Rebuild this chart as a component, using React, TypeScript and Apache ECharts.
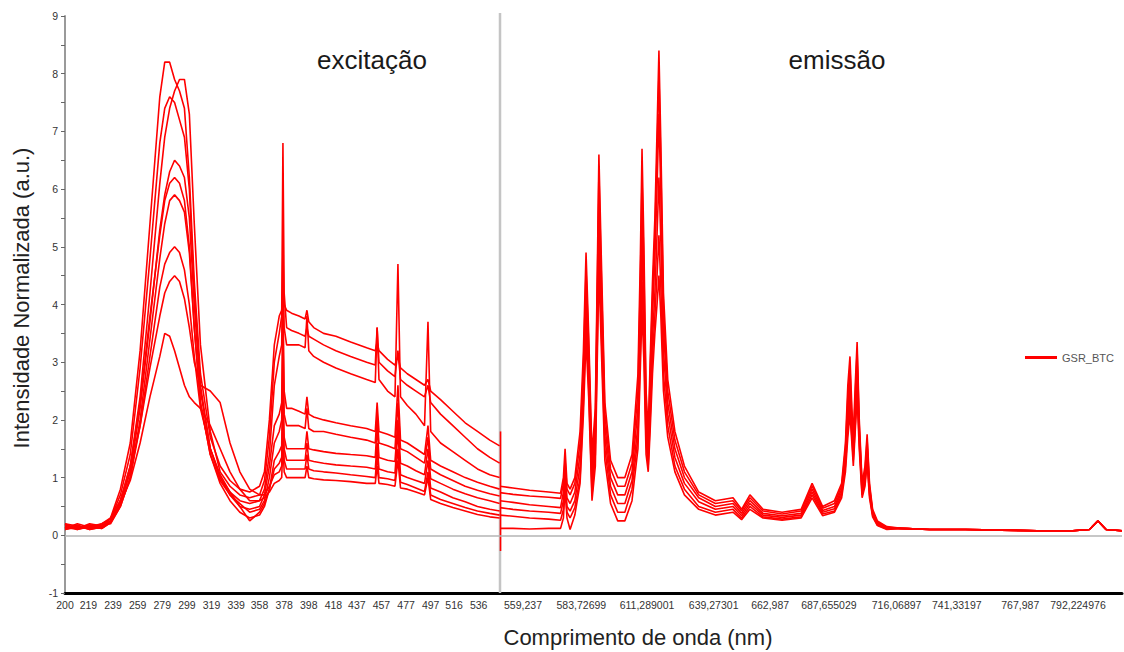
import React, { useEffect, useRef } from "react";
import * as echarts from "echarts";

const FONT = "Liberation Sans, Arial, Helvetica, sans-serif";

// ---------- excitation (left panel), x in nm ----------
const exX = [200, 210, 220, 230, 237, 245, 253, 261, 269, 277, 281, 285, 289, 293, 297, 301, 305, 310, 318, 326,
  334, 342, 350, 358, 362, 366, 370, 374, 376, 377, 378, 380, 384, 390, 395, 396.5, 398, 402, 410, 420,
  432, 445, 452, 453.5, 455, 462, 468, 470.4, 472.5, 478, 485, 492, 494.8, 497, 505, 515, 525, 535, 545, 553];

const ex1 = [0.15, 0.12, 0.18, 0.15, 0.3, 0.8, 1.6, 3.2, 5.4, 7.6, 8.2, 8.2, 7.9, 7.7, 7.4, 6.2, 4.4, 2.8, 1.7, 1.2,
  0.95, 0.8, 0.75, 0.85, 1.1, 2.0, 3.3, 3.8, 3.9, 4.3, 4.0, 3.9, 3.85, 3.8, 3.75, 3.9, 3.7, 3.6, 3.5, 3.45,
  3.35, 3.25, 3.2, 3.35, 3.2, 3.05, 2.95, 3.1, 2.9, 2.8, 2.7, 2.6, 2.7, 2.5, 2.35, 2.15, 1.95, 1.8, 1.65, 1.55];
const ex2 = [0.1, 0.16, 0.1, 0.14, 0.25, 0.6, 1.2, 2.4, 4.2, 6.1, 6.9, 7.4, 7.7, 7.9, 7.9, 7.3, 5.4, 3.3, 1.8, 1.1,
  0.85, 0.7, 0.65, 0.7, 0.95, 1.7, 3.0, 3.5, 3.8, 6.8, 4.2, 3.6, 3.55, 3.5, 3.45, 3.6, 3.45, 3.4, 3.3, 3.2,
  3.1, 3.0, 2.95, 3.6, 3.0, 2.85, 2.75, 3.2, 2.7, 2.6, 2.5, 2.4, 2.6, 2.3, 2.1, 1.9, 1.7, 1.5, 1.35, 1.25];
const ex3 = [0.2, 0.1, 0.15, 0.2, 0.28, 0.7, 1.4, 2.9, 4.8, 6.8, 7.4, 7.6, 7.5, 7.2, 6.9, 6.0, 4.2, 2.6, 1.5, 1.0,
  0.75, 0.6, 0.55, 0.6, 0.8, 1.4, 2.6, 3.1, 3.3, 5.0, 3.6, 3.3, 3.3, 3.3, 3.25, 3.8, 3.2, 3.1, 3.0, 2.9,
  2.8, 2.7, 2.65, 3.6, 2.7, 2.5, 2.4, 4.7, 2.4, 2.25, 2.1, 1.9, 3.7, 1.8, 1.6, 1.45, 1.3, 1.15, 1.05, 1.0];
const ex4 = [0.12, 0.2, 0.14, 0.12, 0.22, 0.55, 1.1, 2.2, 3.7, 5.3, 5.9, 6.3, 6.5, 6.4, 6.2, 5.5, 4.0, 2.5, 1.5, 1.0,
  0.7, 0.5, 0.45, 0.5, 0.7, 1.2, 1.9, 2.1, 2.3, 4.2, 2.5, 2.2, 2.2, 2.15, 2.1, 2.4, 2.1, 2.05, 2.0, 1.95,
  1.9, 1.85, 1.8, 2.3, 1.8, 1.75, 1.7, 2.6, 1.65, 1.6, 1.5, 1.4, 1.9, 1.3, 1.2, 1.1, 1.0, 0.92, 0.85, 0.8];
const ex5 = [0.18, 0.12, 0.2, 0.16, 0.25, 0.6, 1.2, 2.3, 3.8, 5.2, 5.8, 6.1, 6.2, 6.1, 5.8, 5.0, 3.6, 2.3, 1.4, 0.95,
  0.7, 0.55, 0.4, 0.45, 0.6, 1.0, 1.6, 1.8, 2.0, 3.5, 2.1, 1.9, 1.9, 1.9, 1.85, 2.2, 1.85, 1.8, 1.8, 1.75,
  1.7, 1.65, 1.6, 2.1, 1.6, 1.55, 1.5, 2.3, 1.5, 1.45, 1.35, 1.25, 1.7, 1.15, 1.05, 0.95, 0.85, 0.78, 0.72, 0.68];
const ex6 = [0.1, 0.14, 0.12, 0.18, 0.2, 0.5, 1.0, 2.0, 3.4, 4.8, 5.4, 5.8, 5.9, 5.8, 5.6, 4.9, 3.6, 2.3, 1.4, 0.9,
  0.6, 0.4, 0.3, 0.35, 0.5, 0.8, 1.3, 1.45, 1.55, 2.8, 1.7, 1.5, 1.5, 1.5, 1.5, 1.8, 1.5, 1.48, 1.45, 1.42,
  1.4, 1.38, 1.35, 1.9, 1.35, 1.3, 1.28, 2.0, 1.25, 1.2, 1.12, 1.05, 1.5, 0.98, 0.9, 0.8, 0.72, 0.65, 0.6, 0.55];
const ex7 = [0.14, 0.1, 0.16, 0.12, 0.22, 0.5, 1.0, 1.9, 3.1, 4.3, 4.7, 4.9, 5.0, 4.9, 4.6, 4.0, 3.1, 2.2, 1.5, 1.05,
  0.75, 0.5, 0.25, 0.4, 0.55, 0.8, 1.15, 1.25, 1.35, 2.2, 1.5, 1.3, 1.3, 1.3, 1.3, 1.6, 1.3, 1.28, 1.25, 1.22,
  1.2, 1.18, 1.15, 1.6, 1.15, 1.1, 1.08, 1.8, 1.05, 1.0, 0.95, 0.9, 1.3, 0.82, 0.75, 0.65, 0.58, 0.5, 0.45, 0.42];
const ex8 = [0.2, 0.16, 0.12, 0.2, 0.3, 0.6, 1.1, 1.9, 2.9, 3.8, 4.2, 4.4, 4.5, 4.4, 4.1, 3.6, 3.0, 2.6, 2.5, 2.3,
  1.6, 1.1, 0.8, 0.7, 0.7, 0.85, 1.05, 1.1, 1.2, 1.9, 1.3, 1.15, 1.15, 1.15, 1.15, 1.4, 1.15, 1.12, 1.1, 1.08,
  1.05, 1.02, 1.0, 1.4, 1.0, 0.98, 0.95, 1.5, 0.92, 0.88, 0.82, 0.76, 1.1, 0.7, 0.62, 0.55, 0.48, 0.42, 0.38, 0.35];
const ex9 = [0.12, 0.18, 0.1, 0.15, 0.25, 0.55, 0.95, 1.6, 2.4, 3.1, 3.5, 3.45, 3.2, 2.9, 2.6, 2.4, 2.3, 2.2, 1.9, 1.5,
  1.1, 0.8, 0.6, 0.6, 0.65, 0.75, 0.9, 0.95, 1.0, 1.6, 1.1, 1.0, 1.0, 1.0, 1.0, 1.2, 1.0, 0.98, 0.96, 0.95,
  0.93, 0.9, 0.9, 1.2, 0.9, 0.88, 0.85, 1.3, 0.82, 0.8, 0.75, 0.7, 1.0, 0.62, 0.55, 0.48, 0.42, 0.36, 0.32, 0.3];

// ---------- emission (right panel), x in nm ----------
const emX = [549.6, 555, 562, 570, 575, 576.2, 576.9, 577.7, 579, 581, 583.2, 584.6, 585.7, 586.8, 588.2, 589.6, 590.4,
  591.1, 592, 593.6, 596, 599, 602, 605, 607.5, 608.5, 609.2, 610, 610.9, 611.8, 612.6, 613.6, 614.6, 615.5, 616.3,
  617.1, 618.2, 620, 623, 627, 633, 640, 647.4, 651, 654.5, 660, 668, 676, 680.6, 685, 690, 693, 694.6, 695.6, 696.5,
  697.3, 697.9, 698.7, 699.5, 700.4, 701.6, 702.8, 703.7, 704.7, 706, 708, 712];
const emTailX = [718, 730, 745, 760, 775, 790, 797, 800.6, 804, 810.7];
const emTail = [0.12, 0.1, 0.1, 0.09, 0.08, 0.08, 0.1, 0.25, 0.1, 0.08];

const em1 = [0.85, 0.82, 0.78, 0.75, 0.73, 1.0, 1.5, 0.9, 0.8, 1.0, 1.8, 3.2, 4.9, 3.5, 1.4, 2.2, 4.5, 6.6, 5.0, 2.3,
  1.3, 1.0, 1.0, 1.4, 2.8, 4.8, 6.7, 5.0, 2.5, 1.8, 3.0, 4.4, 5.5, 7.0, 8.4, 6.8, 4.2, 2.7, 1.8, 1.2,
  0.75, 0.6, 0.65, 0.45, 0.7, 0.45, 0.4, 0.45, 0.9, 0.5, 0.6, 0.9, 1.6, 2.6, 3.1, 2.2, 1.7, 2.6, 3.35, 2.0,
  0.9, 1.2, 1.75, 0.9, 0.45, 0.25, 0.15];
const em2 = [0.74, 0.71, 0.68, 0.66, 0.64, 0.9, 1.3, 0.8, 0.7, 0.9, 1.6, 2.9, 4.6, 3.3, 1.2, 2.0, 4.2, 6.3, 4.7, 2.1,
  1.15, 0.85, 0.85, 1.25, 2.5, 4.4, 6.2, 4.6, 2.3, 1.6, 2.8, 4.1, 5.2, 6.6, 8.0, 6.4, 3.9, 2.5, 1.65, 1.1,
  0.7, 0.55, 0.6, 0.42, 0.65, 0.42, 0.37, 0.42, 0.85, 0.47, 0.55, 0.85, 1.5, 2.4, 2.9, 2.05, 1.6, 2.4, 3.2, 1.9,
  0.85, 1.1, 1.65, 0.85, 0.42, 0.23, 0.14];
const em3 = [0.6, 0.57, 0.53, 0.5, 0.48, 0.75, 1.2, 0.65, 0.55, 0.75, 1.4, 2.7, 4.3, 3.1, 1.0, 1.8, 3.9, 5.9, 4.4, 1.9,
  1.0, 0.7, 0.7, 1.1, 2.2, 4.0, 5.6, 4.2, 2.0, 1.4, 2.5, 3.8, 4.8, 6.0, 7.3, 5.9, 3.6, 2.3, 1.5, 1.0,
  0.65, 0.5, 0.55, 0.38, 0.6, 0.38, 0.34, 0.38, 0.8, 0.43, 0.5, 0.8, 1.4, 2.2, 2.7, 1.9, 1.5, 2.2, 3.0, 1.8,
  0.8, 1.0, 1.55, 0.8, 0.4, 0.22, 0.13];
const em4 = [0.48, 0.45, 0.42, 0.4, 0.38, 0.6, 1.0, 0.5, 0.42, 0.6, 1.2, 2.5, 4.0, 2.9, 0.85, 1.6, 3.6, 5.4, 4.0, 1.7,
  0.85, 0.55, 0.55, 0.95, 1.9, 3.6, 5.0, 3.8, 1.8, 1.3, 2.2, 3.4, 4.2, 5.2, 6.2, 5.1, 3.2, 2.1, 1.35, 0.9,
  0.58, 0.45, 0.5, 0.34, 0.55, 0.35, 0.31, 0.35, 0.75, 0.4, 0.46, 0.75, 1.3, 2.0, 2.5, 1.8, 1.4, 2.0, 2.8, 1.7,
  0.75, 0.95, 1.45, 0.75, 0.38, 0.2, 0.12];
const em5 = [0.35, 0.33, 0.3, 0.28, 0.26, 0.45, 0.9, 0.4, 0.3, 0.48, 1.0, 2.3, 3.7, 2.6, 0.7, 1.4, 3.3, 5.0, 3.7, 1.5,
  0.7, 0.4, 0.4, 0.8, 1.7, 3.2, 4.4, 3.4, 1.6, 1.2, 2.0, 3.1, 3.8, 4.5, 5.2, 4.3, 2.8, 1.9, 1.2, 0.8,
  0.5, 0.4, 0.45, 0.3, 0.5, 0.32, 0.28, 0.32, 0.7, 0.37, 0.42, 0.7, 1.2, 1.85, 2.3, 1.7, 1.3, 1.9, 2.6, 1.6,
  0.7, 0.9, 1.35, 0.7, 0.35, 0.18, 0.11];
const em6 = [0.12, 0.12, 0.11, 0.12, 0.12, 0.3, 0.8, 0.3, 0.1, 0.35, 0.9, 2.1, 3.4, 2.4, 0.6, 1.2, 3.0, 4.6, 3.4, 1.3,
  0.55, 0.25, 0.25, 0.6, 1.5, 2.9, 3.9, 3.0, 1.4, 1.1, 1.8, 2.8, 3.5, 4.0, 4.5, 3.8, 2.5, 1.7, 1.1, 0.7,
  0.45, 0.35, 0.4, 0.27, 0.45, 0.3, 0.26, 0.3, 0.65, 0.34, 0.4, 0.65, 1.1, 1.7, 2.1, 1.6, 1.2, 1.8, 2.4, 1.5,
  0.65, 0.85, 1.25, 0.65, 0.32, 0.17, 0.1];

// junction between the two scans
const jumpX = [549.8, 549.8];
const jumpY = [1.8, -0.27];

// ---------- axes ----------
const exTickVals = [200, 219, 239, 259, 279, 299, 319, 339, 358, 378, 398, 418, 437, 457, 477, 497, 516, 536];
const emTickVals = [559.237, 583.72699, 611.289001, 639.27301, 662.987, 687.655029, 716.06897, 741.33197, 767.987, 792.224976];
const emTickLabels = ["559,237", "583,72699", "611,289001", "639,27301", "662,987", "687,655029", "716,06897", "741,33197", "767,987", "792,224976"];

const SERIES_NAME = "GSR_BTC";
const RED = "#ff0000";

function zip(xs: number[], ys: number[]) {
  return xs.map((x, i) => [x, ys[i]]);
}

export default function App() {
  const ref = useRef<HTMLDivElement>(null);

  useEffect(() => {
    if (!ref.current) return;
    const chart = echarts.init(ref.current, undefined, { renderer: "svg" });

    const zeroLine = {
      silent: true,
      symbol: "none",
      label: { show: false },
      lineStyle: { color: "#b4b4b4", width: 1.5, type: "solid" },
      data: [{ yAxis: 0 }],
    };

    const exCurves = [ex1, ex2, ex3, ex4, ex5, ex6, ex7, ex8, ex9];
    const emCurves = [em1, em2, em3, em4, em5, em6];

    const lineBase = {
      type: "line",
      name: SERIES_NAME,
      symbol: "none",
      showSymbol: false,
      lineStyle: { color: RED, width: 1.6 },
      itemStyle: { color: RED },
      emphasis: { disabled: true },
    };

    const series: any[] = [];
    exCurves.forEach((ys, i) => {
      series.push({
        ...lineBase,
        xAxisIndex: 0,
        yAxisIndex: 0,
        data: zip(exX, ys),
        ...(i === 0 ? { markLine: zeroLine } : {}),
      });
    });
    emCurves.forEach((ys, i) => {
      series.push({
        ...lineBase,
        xAxisIndex: 1,
        yAxisIndex: 1,
        data: zip(emX.concat(emTailX), ys.concat(emTail)),
        ...(i === 0 ? { markLine: zeroLine } : {}),
      });
    });
    series.push({ ...lineBase, xAxisIndex: 1, yAxisIndex: 1, data: zip(jumpX, jumpY) });

    const yAxisBase = {
      type: "value",
      min: -1,
      max: 9,
      interval: 1,
      splitLine: { show: false },
    };

    const option: any = {
      animation: false,
      backgroundColor: "#ffffff",
      textStyle: { fontFamily: FONT },
      grid: [
        { left: 65, top: 16, width: 435, bottom: 59 },
        { left: 500, top: 16, right: 2, bottom: 59 },
      ],
      xAxis: [
        {
          type: "value",
          gridIndex: 0,
          min: 200,
          max: 553.3,
          axisLine: { show: true, onZero: false, lineStyle: { color: "#000", width: 3 } },
          axisTick: { show: false },
          splitLine: { show: false },
          axisLabel: {
            customValues: exTickVals,
            fontSize: 10.5,
            color: "#333",
            fontFamily: FONT,
            margin: 6,
            formatter: (v: number) => String(Math.round(v)),
          },
        },
        {
          type: "value",
          gridIndex: 1,
          min: 549.58,
          max: 810.7,
          axisLine: { show: true, onZero: false, lineStyle: { color: "#000", width: 3 } },
          axisTick: { show: false },
          splitLine: { show: false },
          axisLabel: {
            customValues: emTickVals,
            fontSize: 10.5,
            color: "#333",
            fontFamily: FONT,
            margin: 6,
            formatter: (v: number) => {
              let best = 0;
              emTickVals.forEach((t, i) => {
                if (Math.abs(t - v) < Math.abs(emTickVals[best] - v)) best = i;
              });
              return emTickLabels[best];
            },
          },
        },
      ],
      yAxis: [
        {
          ...yAxisBase,
          gridIndex: 0,
          axisLine: { show: true, lineStyle: { color: "#9a9a9a", width: 2 } },
          axisTick: { show: true, length: 4, lineStyle: { color: "#666" } },
          minorTick: { show: true, splitNumber: 2, length: 4, lineStyle: { color: "#666" } },
          axisLabel: { fontSize: 10.5, color: "#333", fontFamily: FONT, margin: 7 },
        },
        {
          ...yAxisBase,
          gridIndex: 1,
          show: false,
        },
      ],
      legend: {
        data: [{ name: SERIES_NAME, icon: "rect" }],
        left: 1025,
        top: 352,
        padding: 0,
        itemWidth: 32,
        itemHeight: 3,
        itemGap: 6,
        itemStyle: { color: RED },
        textStyle: { fontSize: 11, color: "#555", fontFamily: FONT },
        selectedMode: false,
      },
      graphic: [
        {
          type: "line",
          shape: { x1: 500, y1: 13, x2: 500, y2: 593 },
          style: { stroke: "#c4c4c4", lineWidth: 2.5 },
          z: 1,
          silent: true,
        },
        {
          type: "text",
          x: 372,
          y: 60,
          style: { text: "excitação", fontSize: 26, fill: "#1a1a1a", fontFamily: FONT, align: "center", verticalAlign: "middle" },
          z: 10,
        },
        {
          type: "text",
          x: 837,
          y: 60,
          style: { text: "emissão", fontSize: 26, fill: "#1a1a1a", fontFamily: FONT, align: "center", verticalAlign: "middle" },
          z: 10,
        },
        {
          type: "text",
          x: 638,
          y: 637,
          style: { text: "Comprimento de onda (nm)", fontSize: 22, fill: "#222", fontFamily: FONT, align: "center", verticalAlign: "middle" },
          z: 10,
        },
        {
          type: "text",
          x: 21,
          y: 298,
          rotation: Math.PI / 2,
          style: { text: "Intensidade Normalizada (a.u.)", fontSize: 22, fill: "#222", fontFamily: FONT, align: "center", verticalAlign: "middle" },
          z: 10,
        },
      ],
      series,
    };

    chart.setOption(option);
    return () => chart.dispose();
  }, []);

  return (
    <div
      ref={ref}
      style={{ position: "absolute", left: 0, top: 0, width: 1124, height: 652, background: "#fff" }}
    />
  );
}
